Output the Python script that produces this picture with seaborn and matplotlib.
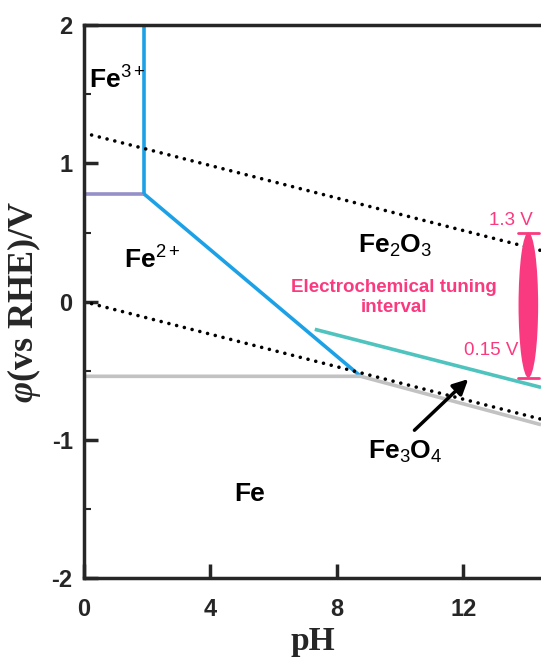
import numpy as np
import pandas as pd
import matplotlib
matplotlib.use("Agg")
import matplotlib.pyplot as plt
from matplotlib.patches import Ellipse
import seaborn as sns

# boundary lines of the Fe Pourbaix diagram (pH, potential vs RHE)
fe3_fe2_ph = [0.0, 1.9]
fe3_fe2_e = [0.78, 0.78]

fe3_fe2o3_ph = [1.9, 1.9]
fe3_fe2o3_e = [0.78, 2.0]

fe2_fe2o3_ph = [1.9, 8.75]
fe2_fe2o3_e = [0.78, -0.54]

fe2o3_fe3o4_ph = [7.3, 14.45]
fe2o3_fe3o4_e = [-0.20, -0.62]

fe_ox_ph = [0.0, 8.75, 14.45]
fe_ox_e = [-0.54, -0.54, -0.89]

o2_ph = [0.0, 14.45]
o2_e = [1.22, 0.37]
h2_ph = [0.0, 14.45]
h2_e = [0.0, -0.85]

# tuning interval
tune_ph = 14.05
tune_top = 0.50
tune_bottom = -0.55

colors = {
    "purple": "#9590C8",
    "blue": "#1DA1E6",
    "teal": "#4FC3BD",
    "gray": "#C2C2C2",
    "pink": "#FA3A80",
}

sns.set_style("ticks")
plt.rcParams["font.family"] = ["Liberation Sans", "DejaVu Sans"]
plt.rcParams["mathtext.default"] = "regular"
plt.rcParams["mathtext.fontset"] = "custom"
plt.rcParams["mathtext.it"] = "Liberation Serif:italic:bold"
plt.rcParams["mathtext.sf"] = "Liberation Sans"
plt.rcParams["axes.unicode_minus"] = False

fig = plt.figure(figsize=(5.41, 6.63), dpi=100)
ax = fig.add_axes([0.155, 0.128, 0.845, 0.834])

segments = [
    (fe3_fe2_ph, fe3_fe2_e, colors["purple"]),
    (fe3_fe2o3_ph, fe3_fe2o3_e, colors["blue"]),
    (fe2_fe2o3_ph, fe2_fe2o3_e, colors["blue"]),
    (fe2o3_fe3o4_ph, fe2o3_fe3o4_e, colors["teal"]),
    (fe_ox_ph, fe_ox_e, colors["gray"]),
]
for xs, ys, c in segments:
    df = pd.DataFrame({"pH": xs, "E": ys})
    sns.lineplot(data=df, x="pH", y="E", color=c, lw=2.6, sort=False,
                 estimator=None, ax=ax, solid_capstyle="butt")

for xs, ys in [(o2_ph, o2_e), (h2_ph, h2_e)]:
    df = pd.DataFrame({"pH": xs, "E": ys})
    sns.lineplot(data=df, x="pH", y="E", color="black", lw=2.6, sort=False,
                 estimator=None, ax=ax, linestyle=(0, (0.01, 2.2)),
                 dash_capstyle="round")

# tuning interval marker
ell = Ellipse((tune_ph, (tune_top + tune_bottom) / 2), 0.62,
              tune_top - tune_bottom, color=colors["pink"], lw=0, zorder=4)
ax.add_patch(ell)
for yv in [tune_top, tune_bottom]:
    ax.plot([tune_ph - 0.33, tune_ph + 0.33], [yv, yv], color=colors["pink"],
            lw=2, zorder=4)
ax.text(14.2, 0.585, "1.3 V", color=colors["pink"], fontsize=13.5,
        ha="right", va="center")
ax.text(13.72, -0.35, "0.15 V", color=colors["pink"], fontsize=13.5,
        ha="right", va="center")
ax.text(9.8, 0.03, "Electrochemical tuning\ninterval", color=colors["pink"],
        fontsize=13.5, fontweight="bold", ha="center", va="center",
        linespacing=1.25)

# region labels
lab = dict(fontsize=19, fontweight="bold", color="black", ha="center",
           va="center")
ax.text(1.05, 1.6, r"Fe$^{\mathsf{3+}}$", **lab)
ax.text(2.15, 0.30, r"Fe$^{\mathsf{2+}}$", **lab)
ax.text(9.84, 0.40, r"Fe$_{\mathsf{2}}$O$_{\mathsf{3}}$", **lab)
ax.text(5.25, -1.39, "Fe", **lab)
ax.text(10.15, -1.09, r"Fe$_{\mathsf{3}}$O$_{\mathsf{4}}$", **lab)
ax.annotate("", xy=(12.15, -0.56), xytext=(10.45, -0.93),
            arrowprops=dict(arrowstyle="-|>,head_length=0.9,head_width=0.45",
                            color="black", lw=2.5, shrinkA=0, shrinkB=0))

ax.set_xlim(0, 14.45)
ax.set_ylim(-2, 2)
ax.set_xticks([0, 4, 8, 12])
ax.set_yticks([-2, -1, 0, 1, 2])
ax.set_yticks([-1.5, -0.5, 0.5, 1.5], minor=True)
ax.tick_params(axis="both", which="major", direction="in", length=10,
               width=2.5, labelsize=17)
ax.tick_params(axis="x", which="major", pad=14)
ax.tick_params(axis="y", which="major", pad=8)
ax.tick_params(axis="y", which="minor", direction="in", length=5, width=1.5)
for lbl in ax.get_xticklabels() + ax.get_yticklabels():
    lbl.set_fontweight("bold")

for side in ["left", "bottom", "top"]:
    ax.spines[side].set_linewidth(2.5)
ax.spines["right"].set_visible(False)

ax.set_xlabel("pH", family="Liberation Serif", fontsize=24, fontweight="bold",
              labelpad=4)
ax.set_ylabel(r"$\mathit{φ}$(vs RHE)/V", family="Liberation Serif",
              fontsize=26, fontweight="bold", labelpad=6)

fig.savefig("out.png", dpi=100)
